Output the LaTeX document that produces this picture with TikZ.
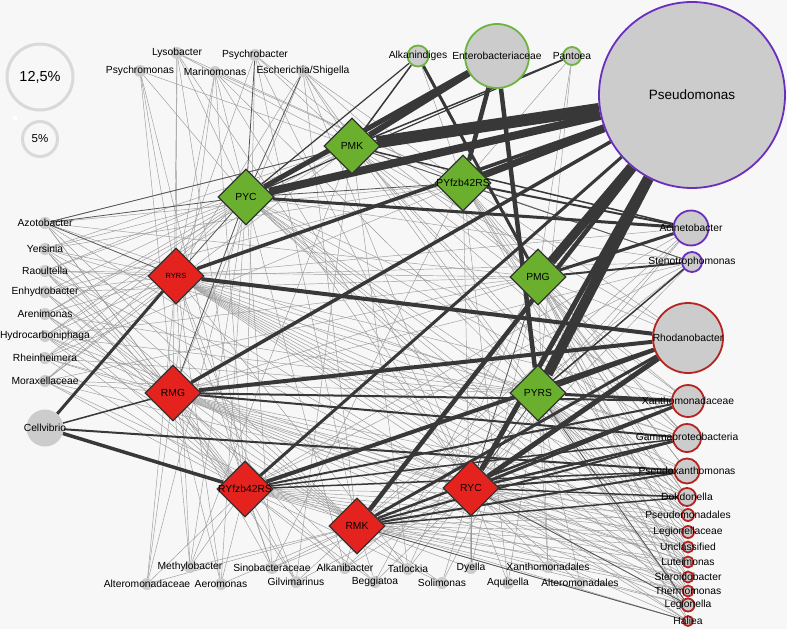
\documentclass[tikz,border=0pt]{standalone}
\usepackage{fontspec}
\setmainfont{Liberation Sans}
\usetikzlibrary{shapes.geometric}

\definecolor{bgpaper}{HTML}{F7F7F7}
\definecolor{taxgray}{HTML}{CCCCCC}
\definecolor{ringgreen}{HTML}{6DB33F}
\definecolor{ringpurple}{HTML}{6A2EBF}
\definecolor{ringred}{HTML}{B52420}
\definecolor{samplegreen}{HTML}{6AB02E}
\definecolor{samplered}{HTML}{E4231F}
\definecolor{samplerim}{HTML}{333333}
\definecolor{linkdark}{HTML}{383838}
\definecolor{linkgray}{HTML}{9A9A9A}
\definecolor{legendgray}{HTML}{D9D9D9}

\pgfdeclarelayer{paper}
\pgfdeclarelayer{links}
\pgfsetlayers{paper,links,main}

\begin{document}
\begin{tikzpicture}[x=1pt,y=-1pt,
	taxon/.style={circle,fill=taxgray,inner sep=0pt,minimum size=#1pt},
	greenring/.style={draw=ringgreen,line width=1.8pt},
	purplering/.style={draw=ringpurple,line width=1.8pt},
	redring/.style={draw=ringred,line width=1.8pt},
	sample/.style={diamond,draw=samplerim,line width=1.2pt,inner sep=0pt,minimum size=56pt},
	greensample/.style={sample,fill=samplegreen},
	redsample/.style={sample,fill=samplered},
	legendring/.style={circle,draw=legendgray,line width=3pt,fill=bgpaper,inner sep=0pt,minimum size=#1pt},
	weak/.style={draw=linkgray,line width=0.45pt},
	medium/.style={draw=linkdark!85,line width=0.8pt},
	strong/.style={draw=linkdark,line width=#1pt},
	every label/.style={font=\fontsize{10.3}{12}\selectfont,inner sep=0pt,text=black}]

	\useasboundingbox (0,0) rectangle (787,629);
	\begin{pgfonlayer}{paper}
		\fill[bgpaper] (0,0) rectangle (787,629);
	\end{pgfonlayer}

	% legend
	\node[legendring=66,label={[font=\fontsize{14.5}{16}\selectfont]center:{12,5\%}}] (scalebig) at (40,77) {};
	\node[legendring=35,label={[font=\fontsize{11.5}{13}\selectfont]center:{5\%}}] (scalesmall) at (40,139) {};
	\node[circle,fill=white,inner sep=0pt,minimum size=5pt] (speck) at (15,118) {};

	% taxa, top
	\node[taxon=186,purplering,label={[font=\fontsize{13.5}{15}\selectfont]center:Pseudomonas}] (pseudomonas) at (692,95) {};
	\node[taxon=64,greenring,label=center:Enterobacteriaceae] (entero) at (497,56) {};
	\node[taxon=21,greenring,label=center:Alkanindiges] (alkanindiges) at (418,56) {};
	\node[taxon=18,greenring,label=center:Pantoea] (pantoea) at (572,56) {};
	\node[taxon=12,label=center:Lysobacter] (lyso) at (177,53) {};
	\node[taxon=12,label=center:Psychrobacter] (psychrob) at (255,55) {};
	\node[taxon=12,label=center:Psychromonas] (psychrom) at (140,71) {};
	\node[taxon=12,label=center:Marinomonas] (marino) at (215,72) {};
	\node[taxon=12,label=center:Escherichia/Shigella] (escher) at (303,71) {};

	% taxa, right
	\node[taxon=35,purplering,label=center:Acinetobacter] (acineto) at (691,228) {};
	\node[taxon=20,purplering,label=center:Stenotrophomonas] (steno) at (692,262) {};
	\node[taxon=70,redring,label=center:Rhodanobacter] (rhodano) at (688,338) {};
	\node[taxon=32,redring,label=center:Xanthomonadaceae] (xanthoceae) at (688,401) {};
	\node[taxon=28,redring,label=center:Gammaproteobacteria] (gamma) at (687,438) {};
	\node[taxon=25,redring,label=center:Pseudoxanthomonas] (pseudoxan) at (687,471) {};
	\node[taxon=18,redring,label=center:Dokdonella] (dokdo) at (687,497) {};
	\node[taxon=12,redring,label=center:Pseudomonadales] (pseudales) at (688,515) {};
	\node[taxon=12,redring,label=center:Legionellaceae] (legionceae) at (688,532) {};
	\node[taxon=11,redring,label=center:Unclassified] (unclass) at (688,547) {};
	\node[taxon=11,redring,label=center:Luteimonas] (lutei) at (688,562) {};
	\node[taxon=11,redring,label=center:Steroidobacter] (steroido) at (688,577) {};
	\node[taxon=11,redring,label=center:Thermomonas] (thermo) at (688,591) {};
	\node[taxon=13,redring,label=center:Legionella] (legionella) at (688,605) {};
	\node[taxon=10,redring,label=center:Haliea] (haliea) at (688,621) {};

	% taxa, left
	\node[taxon=12,label=center:Azotobacter] (azoto) at (45,223) {};
	\node[taxon=12,label=center:Yersinia] (yersinia) at (45,249) {};
	\node[taxon=12,label=center:Raoultella] (raoult) at (45,271) {};
	\node[taxon=12,label=center:Enhydrobacter] (enhydro) at (45,292) {};
	\node[taxon=12,label=center:Arenimonas] (areni) at (45,314) {};
	\node[taxon=12,label=center:Hydrocarboniphaga] (hydro) at (45,336) {};
	\node[taxon=12,label=center:Rheinheimera] (rhein) at (45,358) {};
	\node[taxon=12,label=center:Moraxellaceae] (moraxe) at (45,381) {};
	\node[taxon=37,label=center:Cellvibrio] (cellv) at (45,428) {};

	% taxa, bottom
	\node[taxon=12,label=center:Methylobacter] (methylo) at (190,567) {};
	\node[taxon=12,label=center:Alteromonadaceae] (alteroceae) at (147,584) {};
	\node[taxon=12,label=center:Aeromonas] (aeromonas) at (221,584) {};
	\node[taxon=12,label=center:Sinobacteraceae] (sinob) at (272,568) {};
	\node[taxon=12,label=center:Gilvimarinus] (gilvi) at (296,582) {};
	\node[taxon=12,label=center:Alkanibacter] (alkanib) at (345,568) {};
	\node[taxon=12,label=center:Beggiatoa] (beggia) at (375,582) {};
	\node[taxon=12,label=center:Tatlockia] (tatlock) at (408,569) {};
	\node[taxon=12,label=center:Solimonas] (solim) at (442,583) {};
	\node[taxon=12,label=center:Dyella] (dyella) at (471,568) {};
	\node[taxon=12,label=center:Aquicella] (aquic) at (508,583) {};
	\node[taxon=12,label=center:Xanthomonadales] (xanthales) at (548,567) {};
	\node[taxon=12,label=center:Alteromonadales] (alteroales) at (580,583) {};

	% samples
	\node[greensample,label=center:PMK] (pmk) at (352,146) {};
	\node[greensample,label=center:PYC] (pyc) at (246,197) {};
	\node[greensample,label=center:PYfzb42RS] (pyfzb) at (463,183) {};
	\node[greensample,label=center:PMG] (pmg) at (538,277) {};
	\node[greensample,label=center:PYRS] (pyrs) at (538,393) {};
	\node[redsample,label={[font=\fontsize{7.5}{9}\selectfont]center:RYRS}] (ryrs) at (176,276) {};
	\node[redsample,label=center:RMG] (rmg) at (173,393) {};
	\node[redsample,label=center:RYfzb42RS] (ryfzb) at (245,489) {};
	\node[redsample,label=center:RMK] (rmk) at (357,526) {};
	\node[redsample,label=center:RYC] (ryc) at (471,488) {};

	\begin{pgfonlayer}{links}
	% thin links
	\foreach \t in {lyso,psychrom,marino,yersinia,raoult,enhydro,areni,hydro,rhein,moraxe,steno,xanthoceae,gamma,dokdo,pseudales,legionella,methylo,sinob,alkanib,thermo,alteroceae,aeromonas,unclass,lutei}
		\draw[weak] (pyc) -- (\t);
	\foreach \t in {psychrom,lyso,escher,psychrob,azoto,yersinia,raoult,steno,rhodano,xanthoceae,legionella,pseudales,gamma,hydro,areni,moraxe,methylo,gilvi,tatlock,dokdo}
		\draw[weak] (pmk) -- (\t);
	\foreach \t in {lyso,marino,escher,pantoea,alkanindiges,steno,rhodano,gamma,pseudoxan,dokdo,legionceae,unclass,azoto,enhydro,dyella,aquic,rhein,yersinia,sinob,steroido}
		\draw[weak] (pyfzb) -- (\t);
	\foreach \t in {alkanindiges,pantoea,rhodano,xanthoceae,gamma,pseudoxan,dokdo,pseudales,lutei,thermo,azoto,raoult,hydro,tatlock,dyella,xanthales,escher,psychrob,enhydro,moraxe,beggia,haliea}
		\draw[weak] (pmg) -- (\t);
	\foreach \t in {acineto,gamma,pseudoxan,dokdo,pseudales,legionceae,unclass,lutei,steroido,thermo,legionella,haliea,yersinia,areni,rhein,moraxe,solim,aquic,xanthales,alteroales,escher,marino,pantoea,azoto,hydro,alkanib}
		\draw[weak] (pyrs) -- (\t);
	\foreach \t in {lyso,psychrob,psychrom,marino,escher,yersinia,raoult,enhydro,areni,hydro,rhein,moraxe,acineto,steno,xanthoceae,gamma,pseudoxan,dokdo,pseudales,legionceae,unclass,lutei,steroido,thermo,legionella,haliea,methylo,alteroceae,sinob,aeromonas,gilvi,tatlock}
		\draw[weak] (ryrs) -- (\t);
	\foreach \t in {azoto,yersinia,raoult,enhydro,areni,hydro,rhein,moraxe,psychrom,lyso,marino,escher,acineto,steno,dokdo,pseudales,legionceae,unclass,lutei,steroido,thermo,legionella,haliea,alteroceae,methylo,aeromonas,gilvi,sinob,alkanib,beggia}
		\draw[weak] (rmg) -- (\t);
	\foreach \t in {azoto,yersinia,raoult,enhydro,areni,hydro,rhein,moraxe,lyso,psychrom,marino,psychrob,acineto,steno,dokdo,pseudales,legionceae,unclass,lutei,steroido,thermo,legionella,haliea,methylo,alteroceae,aeromonas,sinob,gilvi,alkanib,beggia,solim}
		\draw[weak] (ryfzb) -- (\t);
	\foreach \t in {alteroceae,aeromonas,methylo,gilvi,alkanib,beggia,tatlock,solim,dyella,acineto,steno,pseudales,legionceae,unclass,lutei,steroido,thermo,legionella,haliea,enhydro,hydro,areni,raoult,escher,psychrob,azoto,yersinia,moraxe,sinob}
		\draw[weak] (rmk) -- (\t);
	\foreach \t in {tatlock,solim,dyella,aquic,xanthales,alteroales,beggia,alkanib,sinob,gilvi,acineto,steno,pseudales,legionceae,unclass,lutei,steroido,thermo,legionella,haliea,azoto,yersinia,rhein,moraxe,raoult,hydro,marino,escher,psychrob,lyso}
		\draw[weak] (ryc) -- (\t);

	% darker thin links
	\foreach \a/\b in {pyc/azoto,ryrs/azoto,pyc/psychrob,pyc/escher,pmk/azoto,pyc/ryrs,pyrs/ryc,pmg/ryc,rmg/pyc,pyfzb/pyc,pmk/steno,pyrs/legionella,ryc/legionella,rmk/haliea}
		\draw[medium] (\a) -- (\b);

	% weighted links
	\foreach \a/\b/\w in {pmk/pseudomonas/12,pyc/pseudomonas/8,pyfzb/pseudomonas/7,pmg/pseudomonas/9,pyrs/pseudomonas/10,
		ryc/pseudomonas/5,rmk/pseudomonas/4.5,ryfzb/pseudomonas/3,rmg/pseudomonas/3.5,ryrs/pseudomonas/3.5,
		pmk/entero/6,pyc/entero/5,pyfzb/entero/4.5,pyrs/entero/4.5,
		pmg/alkanindiges/3,pmk/alkanindiges/1.5,pyc/alkanindiges/1.2,pmk/pantoea/1.5,pyc/pantoea/1.2,
		pyc/acineto/3,pmg/acineto/3,pyfzb/acineto/2,pmk/acineto/1.5,pmg/steno/2,pyrs/steno/1.5,
		ryrs/rhodano/4,rmg/rhodano/4,ryfzb/rhodano/4,rmk/rhodano/3,ryc/rhodano/5,pyrs/rhodano/3,
		ryc/xanthoceae/3,rmk/xanthoceae/2.5,ryfzb/xanthoceae/2,pyrs/xanthoceae/3,rmg/xanthoceae/2,
		ryc/gamma/2.5,rmg/gamma/2,rmk/gamma/2,ryfzb/gamma/1.5,
		ryc/pseudoxan/2,rmk/pseudoxan/2,ryfzb/pseudoxan/1.5,ryc/dokdo/1.5,rmk/dokdo/1.5,
		cellv/ryrs/3,cellv/ryfzb/3.5,cellv/pseudoxan/2,cellv/rmg/1.5}
		\draw[strong=\w] (\a) -- (\b);
	\end{pgfonlayer}

\end{tikzpicture}
\end{document}
